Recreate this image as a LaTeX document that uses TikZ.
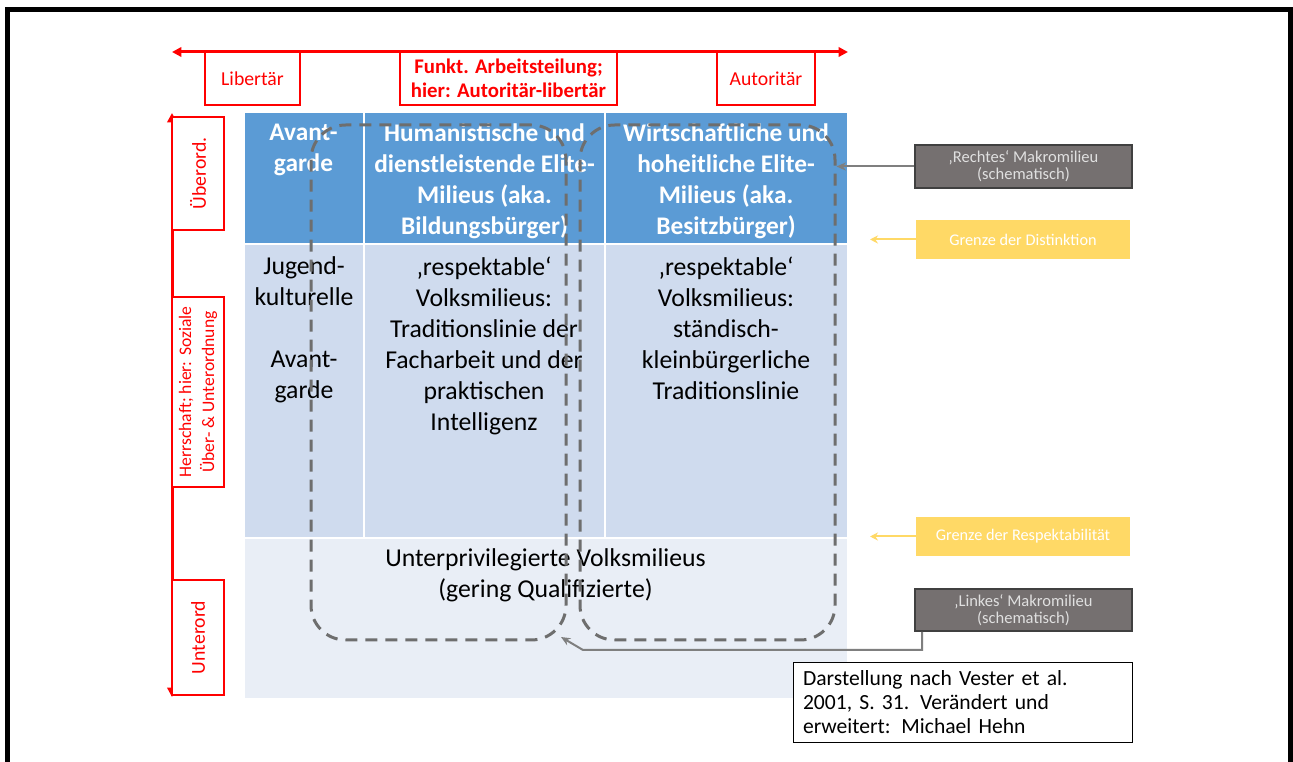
\documentclass[tikz,border=0pt]{standalone}
\usepackage{fontspec}
\setmainfont{Carlito}
\usetikzlibrary{arrows.meta}
\definecolor{hdrblue}{HTML}{5B9BD5}
\definecolor{midblue}{HTML}{CFDBEE}
\definecolor{lowblue}{HTML}{E9EEF6}
\definecolor{dashgray}{HTML}{6E6E6E}
\definecolor{tagfill}{HTML}{757070}
\definecolor{tagline}{HTML}{404040}
\definecolor{amber}{HTML}{FFD966}
\definecolor{linkgray}{HTML}{7F7F7F}
\definecolor{axisred}{HTML}{FF0000}
\begin{document}
\begin{tikzpicture}[x=0.75pt,y=-0.75pt,
  sz/.style 2 args={minimum width=#1*0.75pt, minimum height=#2*0.75pt},
  cell/.style={inner sep=0pt, outer sep=0pt, draw=none},
  hdrtext/.style={text=white, font=\bfseries\fontsize{19}{23.25}\selectfont, align=center, inner sep=0pt, anchor=north},
  bodytext/.style={text=black, font=\fontsize{19.3}{23.25}\selectfont, align=center, inner sep=0pt, anchor=north},
  redbox/.style={draw=axisred, line width=1.5pt, fill=white, text=axisred, inner sep=0pt, align=center, font=\fontsize{14.8}{18}\selectfont},
  axis/.style={draw=axisred, line width=2.25pt, {Triangle[length=7pt,width=7pt]}-{Triangle[length=7pt,width=7pt]}},
  dashbox/.style={draw=dashgray, line width=2.25pt, dash pattern=on 9pt off 6pt, rounded corners=26pt, inner sep=0pt},
  tag/.style={fill=tagfill, draw=tagline, line width=1.5pt, text=white!88!black, align=center, inner sep=0pt, font=\fontsize{12.4}{12.75}\selectfont},
  limit/.style={fill=amber, text=white, inner sep=0pt, font=\fontsize{12.2}{12}\selectfont},
  link/.style={draw=linkgray, line width=1.5pt, -{Stealth[length=7pt,width=6pt]}},
  limitarrow/.style={draw=amber, line width=1.5pt, -{Stealth[length=6pt,width=6pt]}},
  note/.style={draw=black, line width=0.75pt, fill=white, align=left, inner xsep=7.5pt, inner ysep=0pt, font=\fontsize{16.2}{18}\selectfont}
]
\clip (0,0) rectangle (1293,762);
\fill[white] (0,0) rectangle (1293,762);

% outer frame, open at the bottom
\draw[line width=3.75pt] (7.5,800) -- (7.5,9.5) -- (1290.5,9.5) -- (1290.5,800);

% grid of milieus
\node[cell, fill=hdrblue, sz={118}{130}] (h1) at (304,178) {};
\node[cell, fill=hdrblue, sz={239}{130}] (h2) at (484.5,178) {};
\node[cell, fill=hdrblue, sz={241}{130}] (h3) at (726.5,178) {};
\node[cell, fill=midblue, sz={118}{292}] (m1) at (304,391) {};
\node[cell, fill=midblue, sz={239}{292}] (m2) at (484.5,391) {};
\node[cell, fill=midblue, sz={241}{292}] (m3) at (726.5,391) {};
\node[cell, fill=lowblue, sz={602}{159}] (b1) at (546,618.5) {};

\node[hdrtext] (t1) at (303.5,123.5) {Avant-\\garde};
\node[hdrtext] (t2) at (484.5,123.5) {Humanistische und\\dienstleistende Elite-\\Milieus (aka.\\Bildungsbürger)};
\node[hdrtext] (t3) at (726,123.5) {Wirtschaftliche und\\hoheitliche Elite-\\Milieus (aka.\\Besitzbürger)};
\node[bodytext] (u1) at (304,256.5) {Jugend-\\kulturelle\\[23.25pt]Avant-\\garde};
\node[bodytext] (u2) at (484,256.5) {‚respektable‘\\Volksmilieus:\\Traditionslinie der\\Facharbeit und der\\praktischen\\Intelligenz};
\node[bodytext] (u3) at (726,256.5) {‚respektable‘\\Volksmilieus:\\ständisch-\\kleinbürgerliche\\Traditionslinie};
\node[bodytext] (w1) at (545.5,548.5) {Unterprivilegierte Volksmilieus\\(gering Qualifizierte)};

% macro milieus (schematic outlines)
\node[dashbox, sz={255}{515}] (lmak) at (438.5,382.5) {};
\node[dashbox, sz={255}{515}] (rmak) at (707.5,382.5) {};

% horizontal axis
\coordinate (xl) at (172,52);
\coordinate (xr) at (848,52);
\draw[axis] (xl) -- (xr);
\node[redbox, sz={95}{53}] (lib) at (252.5,78.5) {Libertär};
\node[redbox, sz={217}{53}, font=\bfseries\fontsize{15.6}{18}\selectfont] (fun) at (508.5,78.5) {Funkt. Arbeitsteilung;\\hier: Autoritär-libertär};
\node[redbox, sz={98}{53}] (aut) at (766,78.5) {Autoritär};

% vertical axis
\coordinate (yt) at (172,113);
\coordinate (yb) at (172,697);
\draw[axis] (yt) -- (yb);
\node[redbox, sz={113}{52}, rotate=90] (ueb) at (198,173.5) {Überord.};
\node[redbox, sz={190}{52}, rotate=90, font=\fontsize{13.2}{17.25}\selectfont] (her) at (198,392) {Herrschaft; hier: Soziale\\Über- \& Unterordnung};
\node[redbox, sz={115}{52}, rotate=90] (unt) at (198,637.5) {Unterord};

% legend tags
\node[tag, sz={217}{43}] (rechts) at (1023.5,166.5) {‚Rechtes‘ Makromilieu\\(schematisch)};
\node[tag, sz={217}{42}] (links) at (1023.5,610) {‚Linkes‘ Makromilieu\\(schematisch)};
\node[limit, sz={214}{39}] (gd) at (1023,239.5) {Grenze der Distinktion};
\node[limit, sz={214}{39}] (gr) at (1023,536.5) {Grenze der Respektabilität};

\coordinate (gdT) at (870,239.5);
\coordinate (grT) at (870,536.5);
\draw[limitarrow] (gd.west) -- (gdT);
\draw[limitarrow] (gr.west) -- (grT);

\draw[link] (rechts.west) -- (rechts.west -| rmak.east);
\coordinate (lkA) at (922,650);
\coordinate (lkB) at (583,650);
\coordinate (lkT) at (561,637);
\draw[link] (links.south -| lkA) -- (lkA) -- (lkB) -- (lkT);

% source note
\node[note, sz={339}{79}, text width=239.25pt] (src) at (962.5,702.5) {Darstellung nach Vester et al.\\2001, S. 31. Verändert und\\erweitert: Michael Hehn};
\end{tikzpicture}
\end{document}
